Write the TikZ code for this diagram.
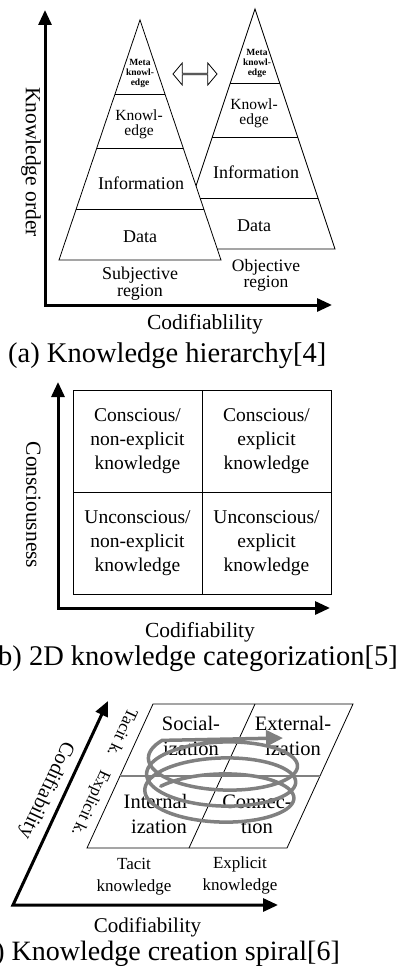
\documentclass[tikz,border=0pt]{standalone}
\usepackage{fontspec}
\setmainfont{Liberation Serif}
\usetikzlibrary{positioning,arrows.meta,shapes.arrows,calc}

\begin{document}
\begin{tikzpicture}[x=1pt, y=-1pt, >=Stealth]
  % Styles
  \tikzset{
    axis/.style={line width=3pt, {Triangle[length=15pt, width=13pt]}-{Triangle[length=15pt, width=13pt]}},
    pyr/.style={draw, line width=0.8pt},
    lvl/.style={font=\fontsize{18}{14}\selectfont, align=center, inner sep=0pt},
    small/.style={font=\fontsize{15.5}{15}\selectfont, align=center, inner sep=0pt},
    tiny/.style={font=\bfseries\fontsize{9.5}{10}\selectfont, align=center, inner sep=0pt},
    axlabel/.style={font=\fontsize{21.5}{24}\selectfont, inner sep=0pt},
    caption/.style={font=\fontsize{28.5}{30}\selectfont, inner sep=0pt},
    cell/.style={draw, line width=0.8pt, minimum width=129pt, minimum height=102pt, inner sep=0pt, align=center, font=\fontsize{19.5}{24}\selectfont},
    quad/.style={font=\fontsize{20.5}{25}\selectfont, align=center, inner sep=0pt},
    side/.style={font=\fontsize{17}{22}\selectfont, align=center, inner sep=0pt},
    spiral/.style={line width=3.5pt, black!50, line cap=round, -{Triangle[length=17pt, width=16pt]}}
  }
  \useasboundingbox (0,0) rectangle (401,971);
  \clip (0,0) rectangle (401,971);

  % (a) Knowledge hierarchy
  \coordinate (ya) at (45,10);
  \coordinate (oa) at (45,305);
  \coordinate (xa) at (332,305);
  \draw[axis] (ya) -- (oa) -- (xa);

  \coordinate (ra) at (255,9);
  \coordinate (rbl) at (175,249);
  \coordinate (rbr) at (335,249);
  \draw[pyr] (ra) -- (rbr) -- (rbl) -- cycle;
  \foreach \f in {0.31,0.535,0.79}
    \draw[pyr] ($(ra)!\f!(rbl)$) -- ($(ra)!\f!(rbr)$);

  \coordinate (la) at (140,20);
  \coordinate (lbl) at (59,260);
  \coordinate (lbr) at (221,260);
  \filldraw[pyr, fill=white] (la) -- (lbr) -- (lbl) -- cycle;
  \foreach \f in {0.31,0.535,0.79}
    \draw[pyr] ($(la)!\f!(lbl)$) -- ($(la)!\f!(lbr)$);

  \node[tiny] (lmeta) at (140,73) {Meta\\knowl-\\edge};
  \node[small] (lknow) at (139,124.5) {Knowl-\\edge};
  \node[lvl] (linfo) at (141,183) {Information};
  \node[lvl] (ldata) at (140,237) {Data};
  \node[tiny] (rmeta) at (257,63) {Meta\\knowl-\\edge};
  \node[small] (rknow) at (254,113) {Knowl-\\edge};
  \node[lvl] (rinfo) at (256,172) {Information};
  \node[lvl] (rdata) at (254,226) {Data};
  \node[lvl] (subj) at (140,284) {Subjective\\region};
  \node[lvl, font=\fontsize{17.5}{14}\selectfont] (obj) at (266,275) {Objective\\region};

  \node[double arrow, draw, line width=0.8pt, minimum height=44pt, minimum width=22pt,
        double arrow head extend=5pt, double arrow tip angle=100, inner sep=0pt] (swap) at (195,74) {};

  \node[axlabel, rotate=-90] (korder) at (31,162) {Knowledge order};
  \node[axlabel, anchor=base] (codia) at (205,329) {Codifiablility};
  \node[caption, anchor=base west] (capa) at (8,362) {(a) Knowledge hierarchy[4]};

  % (b) 2D knowledge categorization
  \coordinate (yb) at (58,382);
  \coordinate (ob) at (58,608);
  \coordinate (xb) at (330,608);
  \draw[axis] (yb) -- (ob) -- (xb);

  \node[cell] (cne) at (137.5,441) {Conscious/\\non-explicit\\knowledge};
  \node[cell] (ce) at (266.5,441) {Conscious/\\explicit\\knowledge};
  \node[cell] (une) at (137.5,543) {Unconscious/\\non-explicit\\knowledge};
  \node[cell] (ue) at (266.5,543) {Unconscious/\\explicit\\knowledge};

  \node[axlabel, rotate=-90] (consc) at (33.5,505) {Consciousness};
  \node[axlabel, anchor=base] (codib) at (200,637) {Codifiability};
  \node[caption, anchor=base east] (capb) at (398,665) {(b) 2D knowledge categorization[5]};

  % (c) Knowledge creation spiral
  \coordinate (yc) at (108,701);
  \coordinate (oc) at (13,905);
  \coordinate (xc) at (278,905);
  \draw[axis] (yc) -- (oc) -- (xc);

  \coordinate (p1) at (87,848);
  \coordinate (p2) at (287,848);
  \coordinate (p3) at (353,704);
  \coordinate (p4) at (153,704);
  \draw[pyr] (p1) -- (p2) -- (p3) -- (p4) -- cycle;
  \draw[pyr] (189,848) -- (255,704);
  \draw[line width=1.2pt, black!50] ($(p1)!0.5!(p4)$) -- ($(p2)!0.5!(p3)$);

  \node[quad] (soc) at (191,735.5) {Social-\\ization};
  \node[quad] (ext) at (293,735.5) {External-\\ization};
  \node[quad] (int) at (159,814) {Internal-\\ization};
  \node[quad] (con) at (257,814) {Connec-\\tion};

  \node[side, rotate=-114.6] (tk) at (123,733) {Tacit k.};
  \node[side, rotate=-114.6] (ek) at (90,803) {Explicit k.};
  \node[axlabel, font=\fontsize{20.5}{24}\selectfont, rotate=-115] (codic) at (46,790) {Codifiability};
  \node[side] (tacit) at (134,877) {Tacit\\knowledge};
  \node[side] (expl) at (240,875) {Explicit\\knowledge};
  \node[axlabel, font=\fontsize{21}{24}\selectfont, anchor=base] (codix) at (147.5,932) {Codifiability};
  \node[caption, font=\fontsize{28}{30}\selectfont, anchor=base east] (capc) at (340,960) {(c) Knowledge creation spiral[6]};

  % spiral
  \draw[spiral] plot[domain=40:1115, samples=240, smooth] ({218+\x/200-75*cos(\x)},{806-\x/22.5-28*sin(\x)}) -- (283,738);
\end{tikzpicture}
\end{document}
